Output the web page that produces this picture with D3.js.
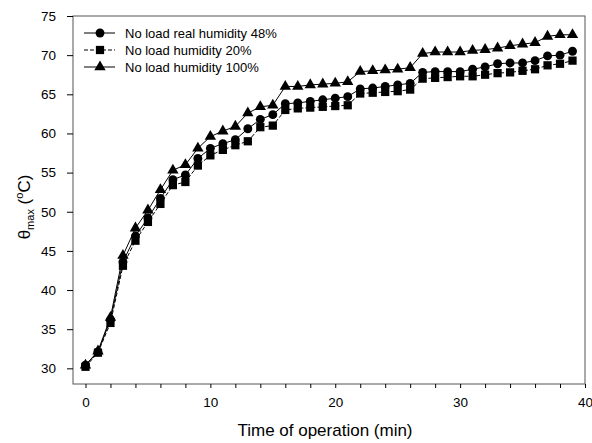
<!DOCTYPE html>
<html>
<head>
<meta charset="utf-8">
<script src="https://cdn.jsdelivr.net/npm/d3@7"></script>
<style>
  html, body { margin: 0; padding: 0; background: #fff; }
  svg { display: block; font-family: Arial, "Liberation Sans", sans-serif; }
</style>
</head>
<body>
<svg id="chart" width="592" height="443"></svg>
<script>
// Time of operation, minutes
const minutes = d3.range(0, 40);

// Maximum temperature (°C) for each humidity condition
const humidity48 = [30.4, 32.1, 36.2, 43.6, 46.9, 49.2, 51.7, 54.1, 54.7, 56.8,
  58.1, 58.7, 59.2, 60.6, 61.8, 62.4, 63.8, 63.9, 64.1, 64.3,
  64.5, 64.7, 65.7, 65.8, 66.0, 66.2, 66.4, 67.8, 67.9, 67.9,
  67.9, 68.2, 68.5, 68.9, 69.0, 69.0, 69.3, 69.9, 70.0, 70.5];
const humidity20 = [30.2, 32.0, 35.8, 43.1, 46.3, 48.7, 51.0, 53.4, 53.8, 55.9,
  57.2, 57.9, 58.5, 59.0, 60.8, 61.0, 63.0, 63.2, 63.3, 63.4,
  63.5, 63.6, 65.1, 65.2, 65.3, 65.4, 65.6, 67.0, 67.1, 67.2,
  67.3, 67.3, 67.5, 67.7, 67.8, 68.0, 68.2, 68.7, 68.9, 69.3];
const humidity100 = [30.4, 32.2, 36.5, 44.4, 47.9, 50.2, 52.8, 55.3, 56.0, 58.1,
  59.6, 60.3, 60.9, 62.6, 63.4, 63.6, 66.0, 66.0, 66.2, 66.3,
  66.4, 66.6, 67.9, 68.0, 68.1, 68.2, 68.4, 70.2, 70.4, 70.4,
  70.4, 70.6, 70.7, 70.9, 71.2, 71.4, 71.6, 72.4, 72.6, 72.6];

const seriesNames = ["No load real humidity 48%", "No load humidity 20%", "No load humidity 100%"];
const xTicks = d3.range(0, 41, 2);
const xLabels = [0, 10, 20, 30, 40];
const yTicks = d3.range(30, 76, 5);

const series = [
  { name: seriesNames[0], values: humidity48, symbol: d3.symbolCircle, size: 62, dash: null },
  { name: seriesNames[1], values: humidity20, symbol: d3.symbolSquare, size: 68, dash: "4,2" },
  { name: seriesNames[2], values: humidity100, symbol: d3.symbolTriangle, size: 56, dash: null }
];

const svg = d3.select("#chart");
const plotLeft = 73, plotRight = 585, plotTop = 16, plotBottom = 384;

const x = d3.scaleLinear().domain([-1, 40]).range([plotLeft, plotRight]);
const y = d3.scaleLinear().domain([28, 75]).range([plotBottom, plotTop]);

// Frame around the plotting area
svg.append("rect")
  .attr("x", plotLeft).attr("y", plotTop)
  .attr("width", plotRight - plotLeft).attr("height", plotBottom - plotTop)
  .attr("fill", "none").attr("stroke", "#555").attr("stroke-width", 1);

// X axis: ticks every 2 min, labels every 10 min
const xAxis = svg.append("g").attr("transform", `translate(0,${plotBottom})`)
  .call(d3.axisBottom(x).tickValues(xTicks).tickSize(4).tickSizeOuter(0)
    .tickFormat(d => xLabels.includes(d) ? d : ""));
xAxis.select(".domain").remove();
xAxis.selectAll("line").attr("stroke", "#000");
xAxis.selectAll("text").attr("font-size", 13.5).attr("fill", "#000").attr("dy", "1.2em");

// Y axis
const yAxis = svg.append("g").attr("transform", `translate(${plotLeft},0)`)
  .call(d3.axisLeft(y).tickValues(yTicks).tickSize(6).tickSizeOuter(0));
yAxis.select(".domain").remove();
yAxis.selectAll("line").attr("stroke", "#000");
yAxis.selectAll("text").attr("font-size", 13.5).attr("fill", "#000").attr("dx", "-0.6em");

// Axis titles
svg.append("text")
  .attr("x", 325).attr("y", 436)
  .attr("text-anchor", "middle").attr("font-size", 17)
  .text("Time of operation (min)");

const yTitle = svg.append("text")
  .attr("transform", "translate(30,207) rotate(-90)")
  .attr("text-anchor", "middle").attr("font-size", 17);
yTitle.append("tspan").text("θ");
yTitle.append("tspan").attr("font-size", 11).attr("dy", 4).text("max");
yTitle.append("tspan").attr("dy", -4).text(" (");
yTitle.append("tspan").attr("font-size", 11).attr("dy", -7).text("o");
yTitle.append("tspan").attr("dy", 7).text("C)");

// Series lines and markers
const line = d3.line().x((d, i) => x(minutes[i])).y(d => y(d));
series.forEach(s => {
  svg.append("path")
    .datum(s.values)
    .attr("d", line)
    .attr("fill", "none").attr("stroke", "#000").attr("stroke-width", 1)
    .attr("stroke-dasharray", s.dash);
  svg.append("g").selectAll("path")
    .data(s.values)
    .join("path")
    .attr("transform", (d, i) => `translate(${x(minutes[i])},${y(d)})`)
    .attr("d", d3.symbol().type(s.symbol).size(s.size))
    .attr("fill", "#000");
});

// Legend
const legend = svg.append("g");
series.forEach((s, i) => {
  const ly = 33 + i * 17;
  legend.append("line")
    .attr("x1", 84).attr("x2", 115).attr("y1", ly).attr("y2", ly)
    .attr("stroke", "#000").attr("stroke-width", 1)
    .attr("stroke-dasharray", s.dash);
  legend.append("path")
    .attr("transform", `translate(100,${ly})`)
    .attr("d", d3.symbol().type(s.symbol).size(s.size))
    .attr("fill", "#000");
  legend.append("text")
    .attr("x", 125).attr("y", ly).attr("dy", "0.35em")
    .attr("font-size", 13).attr("fill", "#000")
    .text(s.name);
});
</script>
</body>
</html>
